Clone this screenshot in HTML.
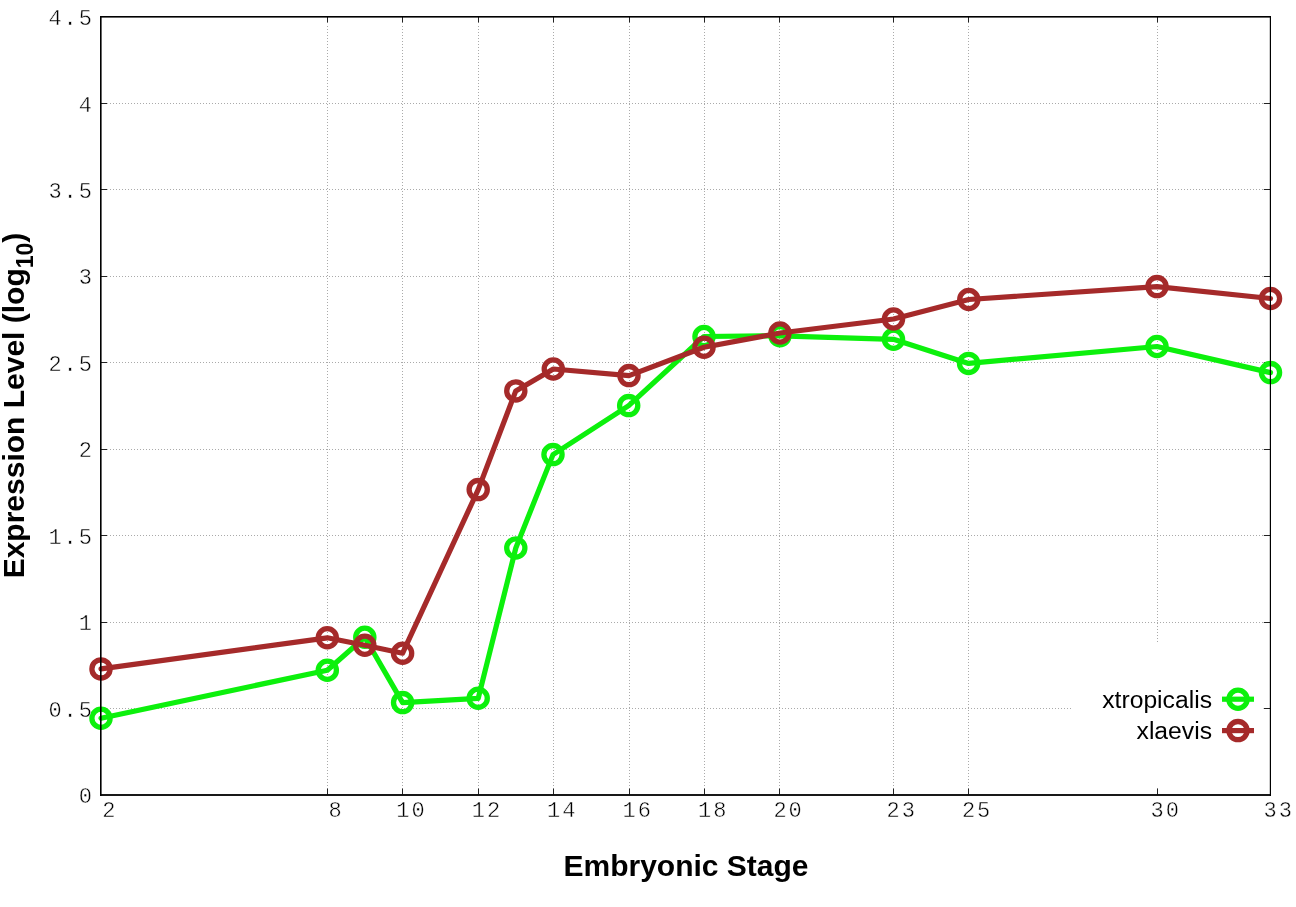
<!DOCTYPE html>
<html><head><meta charset="utf-8"><title>Expression Level</title>
<style>
html,body{margin:0;padding:0;background:#fff;}
body{width:1296px;height:907px;overflow:hidden;}
svg{display:block;}
.tk{font-family:"Liberation Mono",monospace;font-size:22px;letter-spacing:2px;fill:#000;stroke:#fff;stroke-width:0.45px;}
.lab{font-family:"Liberation Sans",Arial,sans-serif;font-weight:bold;fill:#000;}
.key{font-family:"Liberation Sans",Arial,sans-serif;font-size:24.7px;fill:#000;}
</style></head><body>
<svg width="1296" height="907" viewBox="0 0 1296 907">
<rect x="0" y="0" width="1296" height="907" fill="#fff"/>
<g stroke="#aaaaaa" stroke-width="1" stroke-dasharray="1 2" shape-rendering="crispEdges">
<line x1="110" y1="708.5" x2="1264" y2="708.5"/>
<line x1="110" y1="622.5" x2="1264" y2="622.5"/>
<line x1="110" y1="535.5" x2="1264" y2="535.5"/>
<line x1="110" y1="449.5" x2="1264" y2="449.5"/>
<line x1="110" y1="362.5" x2="1264" y2="362.5"/>
<line x1="110" y1="276.5" x2="1264" y2="276.5"/>
<line x1="110" y1="189.5" x2="1264" y2="189.5"/>
<line x1="110" y1="103.5" x2="1264" y2="103.5"/>
<line x1="327.5" y1="26" x2="327.5" y2="788"/>
<line x1="402.5" y1="26" x2="402.5" y2="788"/>
<line x1="478.5" y1="26" x2="478.5" y2="788"/>
<line x1="553.5" y1="26" x2="553.5" y2="788"/>
<line x1="629.5" y1="26" x2="629.5" y2="788"/>
<line x1="704.5" y1="26" x2="704.5" y2="788"/>
<line x1="779.5" y1="26" x2="779.5" y2="788"/>
<line x1="893.5" y1="26" x2="893.5" y2="788"/>
<line x1="968.5" y1="26" x2="968.5" y2="788"/>
<line x1="1157.5" y1="26" x2="1157.5" y2="788"/>
</g>
<rect x="1071" y="642" width="199" height="152" fill="#fff"/>
<g fill="#222">
<rect x="100" y="708" width="7.3" height="1"/>
<rect x="1263.8" y="708" width="6.5" height="1"/>
<rect x="100" y="622" width="7.3" height="1"/>
<rect x="1263.8" y="622" width="6.5" height="1"/>
<rect x="100" y="535" width="7.3" height="1"/>
<rect x="1263.8" y="535" width="6.5" height="1"/>
<rect x="100" y="449" width="7.3" height="1"/>
<rect x="1263.8" y="449" width="6.5" height="1"/>
<rect x="100" y="362" width="7.3" height="1"/>
<rect x="1263.8" y="362" width="6.5" height="1"/>
<rect x="100" y="276" width="7.3" height="1"/>
<rect x="1263.8" y="276" width="6.5" height="1"/>
<rect x="100" y="189" width="7.3" height="1"/>
<rect x="1263.8" y="189" width="6.5" height="1"/>
<rect x="100" y="103" width="7.3" height="1"/>
<rect x="1263.8" y="103" width="6.5" height="1"/>
<rect x="327" y="16" width="1" height="6.6"/>
<rect x="327" y="788.4" width="1" height="6"/>
<rect x="402" y="16" width="1" height="6.6"/>
<rect x="402" y="788.4" width="1" height="6"/>
<rect x="478" y="16" width="1" height="6.6"/>
<rect x="478" y="788.4" width="1" height="6"/>
<rect x="553" y="16" width="1" height="6.6"/>
<rect x="553" y="788.4" width="1" height="6"/>
<rect x="629" y="16" width="1" height="6.6"/>
<rect x="629" y="788.4" width="1" height="6"/>
<rect x="704" y="16" width="1" height="6.6"/>
<rect x="704" y="788.4" width="1" height="6"/>
<rect x="779" y="16" width="1" height="6.6"/>
<rect x="779" y="788.4" width="1" height="6"/>
<rect x="893" y="16" width="1" height="6.6"/>
<rect x="893" y="788.4" width="1" height="6"/>
<rect x="968" y="16" width="1" height="6.6"/>
<rect x="968" y="788.4" width="1" height="6"/>
<rect x="1157" y="16" width="1" height="6.6"/>
<rect x="1157" y="788.4" width="1" height="6"/>
</g>
<path d="M101.0,718.3 L327.3,670.2 L364.8,637.2 L402.6,702.6 L478.2,698.3 L515.8,548.0 L553.0,454.6 L628.7,405.6 L704.0,336.5 L780.0,335.8 L893.5,339.3 L968.6,363.4 L1157.0,346.5 L1270.5,372.6" fill="none" stroke="#0cf00c" stroke-width="5.2" stroke-linejoin="round" stroke-linecap="round"/><circle cx="101.0" cy="718.3" r="9.1" fill="none" stroke="#0cf00c" stroke-width="5.3"/><circle cx="327.3" cy="670.2" r="9.1" fill="none" stroke="#0cf00c" stroke-width="5.3"/><circle cx="364.8" cy="637.2" r="9.1" fill="none" stroke="#0cf00c" stroke-width="5.3"/><circle cx="402.6" cy="702.6" r="9.1" fill="none" stroke="#0cf00c" stroke-width="5.3"/><circle cx="478.2" cy="698.3" r="9.1" fill="none" stroke="#0cf00c" stroke-width="5.3"/><circle cx="515.8" cy="548.0" r="9.1" fill="none" stroke="#0cf00c" stroke-width="5.3"/><circle cx="553.0" cy="454.6" r="9.1" fill="none" stroke="#0cf00c" stroke-width="5.3"/><circle cx="628.7" cy="405.6" r="9.1" fill="none" stroke="#0cf00c" stroke-width="5.3"/><circle cx="704.0" cy="336.5" r="9.1" fill="none" stroke="#0cf00c" stroke-width="5.3"/><circle cx="780.0" cy="335.8" r="9.1" fill="none" stroke="#0cf00c" stroke-width="5.3"/><circle cx="893.5" cy="339.3" r="9.1" fill="none" stroke="#0cf00c" stroke-width="5.3"/><circle cx="968.6" cy="363.4" r="9.1" fill="none" stroke="#0cf00c" stroke-width="5.3"/><circle cx="1157.0" cy="346.5" r="9.1" fill="none" stroke="#0cf00c" stroke-width="5.3"/><circle cx="1270.5" cy="372.6" r="9.1" fill="none" stroke="#0cf00c" stroke-width="5.3"/>
<path d="M101.0,668.9 L327.3,637.8 L364.8,645.2 L402.6,653.2 L478.2,489.6 L515.8,390.9 L553.3,369.0 L629.0,375.6 L704.0,347.2 L780.0,333.0 L893.5,319.0 L968.8,299.5 L1157.0,286.6 L1270.5,298.5" fill="none" stroke="#a52a2a" stroke-width="5.2" stroke-linejoin="round" stroke-linecap="round"/><circle cx="101.0" cy="668.9" r="9.1" fill="none" stroke="#a52a2a" stroke-width="5.3"/><circle cx="327.3" cy="637.8" r="9.1" fill="none" stroke="#a52a2a" stroke-width="5.3"/><circle cx="364.8" cy="645.2" r="9.1" fill="none" stroke="#a52a2a" stroke-width="5.3"/><circle cx="402.6" cy="653.2" r="9.1" fill="none" stroke="#a52a2a" stroke-width="5.3"/><circle cx="478.2" cy="489.6" r="9.1" fill="none" stroke="#a52a2a" stroke-width="5.3"/><circle cx="515.8" cy="390.9" r="9.1" fill="none" stroke="#a52a2a" stroke-width="5.3"/><circle cx="553.3" cy="369.0" r="9.1" fill="none" stroke="#a52a2a" stroke-width="5.3"/><circle cx="629.0" cy="375.6" r="9.1" fill="none" stroke="#a52a2a" stroke-width="5.3"/><circle cx="704.0" cy="347.2" r="9.1" fill="none" stroke="#a52a2a" stroke-width="5.3"/><circle cx="780.0" cy="333.0" r="9.1" fill="none" stroke="#a52a2a" stroke-width="5.3"/><circle cx="893.5" cy="319.0" r="9.1" fill="none" stroke="#a52a2a" stroke-width="5.3"/><circle cx="968.8" cy="299.5" r="9.1" fill="none" stroke="#a52a2a" stroke-width="5.3"/><circle cx="1157.0" cy="286.6" r="9.1" fill="none" stroke="#a52a2a" stroke-width="5.3"/><circle cx="1270.5" cy="298.5" r="9.1" fill="none" stroke="#a52a2a" stroke-width="5.3"/>
<g fill="#000" >
<rect x="100" y="16" width="1.6" height="779.9"/>
<rect x="1269.8" y="16" width="1.2" height="779.9"/>
<rect x="100" y="16" width="1171" height="1.6"/>
<rect x="100" y="794.1" width="1171" height="1.8"/>
</g>
<g class="tk" text-anchor="end">
<text x="94" y="803.1">0</text>
<text x="94" y="716.7">0.5</text>
<text x="94" y="630.2">1</text>
<text x="94" y="543.8">1.5</text>
<text x="94" y="457.3">2</text>
<text x="94" y="370.9">2.5</text>
<text x="94" y="284.4">3</text>
<text x="94" y="198.0">3.5</text>
<text x="94" y="111.5">4</text>
<text x="94" y="25.1">4.5</text>
</g>
<g class="tk" text-anchor="middle">
<text x="109.8" y="817">2</text>
<text x="336.1" y="817">8</text>
<text x="411.5" y="817">10</text>
<text x="486.9" y="817">12</text>
<text x="562.3" y="817">14</text>
<text x="637.7" y="817">16</text>
<text x="713.2" y="817">18</text>
<text x="788.6" y="817">20</text>
<text x="901.7" y="817">23</text>
<text x="977.1" y="817">25</text>
<text x="1165.7" y="817">30</text>
<text x="1278.8" y="817">33</text>
</g>
<text class="lab" x="686" y="876" text-anchor="middle" font-size="30px">Embryonic Stage</text>
<text class="lab" transform="translate(24.3,405.5) rotate(-90)" text-anchor="middle" font-size="30px">Expression Level (log<tspan font-size="23px" dy="8.8">10</tspan><tspan dy="-8.8">)</tspan></text>
<g class="key" text-anchor="end">
<text x="1212" y="707.5">xtropicalis</text>
<text x="1212" y="739">xlaevis</text>
</g>
<line x1="1222" y1="699.2" x2="1254" y2="699.2" stroke="#0cf00c" stroke-width="5.2"/>
<circle cx="1238" cy="699.2" r="9.1" fill="none" stroke="#0cf00c" stroke-width="5.3"/>
<line x1="1222" y1="730.6" x2="1254" y2="730.6" stroke="#a52a2a" stroke-width="5.2"/>
<circle cx="1238" cy="730.6" r="9.1" fill="none" stroke="#a52a2a" stroke-width="5.3"/>
</svg></body></html>
